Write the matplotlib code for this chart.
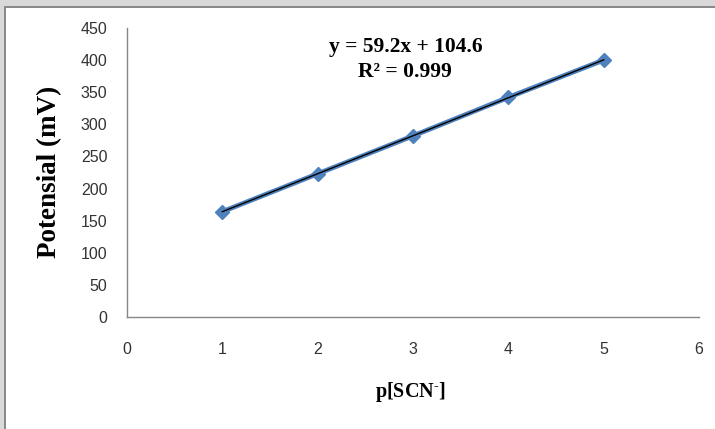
import numpy as np
import matplotlib
matplotlib.use("Agg")
import matplotlib.pyplot as plt
from matplotlib.patches import Rectangle

x_vals = [1, 2, 3, 4, 5]
potential = [164, 223, 282, 342, 400]
x_ticks = [0, 1, 2, 3, 4, 5, 6]
y_ticks = [0, 50, 100, 150, 200, 250, 300, 350, 400, 450]
eq_text = "y = 59.2x + 104.6"
r2_text = "R\u00b2 = 0.999"
xlabel_text = r"p[SCN$^{\text{-}}$]"
ylabel_text = "Potensial (mV)"

plt.rcParams['mathtext.fontset'] = 'custom'
plt.rcParams['mathtext.rm'] = 'Liberation Serif:bold'
plt.rcParams['mathtext.it'] = 'Liberation Serif:bold'
plt.rcParams['mathtext.bf'] = 'Liberation Serif:bold'

fig = plt.figure(figsize=(7.15, 4.29), dpi=100)
W, H = 715, 429

# window frame decorations
fig.patches.append(Rectangle((0, 1 - 6 / H), 1, 6 / H, transform=fig.transFigure,
                             facecolor='#d9d9d9', edgecolor='none', zorder=0))
fig.patches.append(Rectangle((0, 1 - 8 / H), 1, 2 / H, transform=fig.transFigure,
                             facecolor='#8a8a8a', edgecolor='none', zorder=0))
fig.patches.append(Rectangle((0, 0), 4 / W, 1, transform=fig.transFigure,
                             facecolor='#d9d9d9', edgecolor='none', zorder=0))
fig.patches.append(Rectangle((4 / W, 0), 2 / W, 1 - 6 / H, transform=fig.transFigure,
                             facecolor='#8a8a8a', edgecolor='none', zorder=0))

ax = fig.add_axes([127 / W, 1 - 317 / H, (699 - 127) / W, (317 - 28) / H])
ax.set_xlim(0, 6)
ax.set_ylim(0, 450)

ax.plot(x_vals, potential, color='#4f81bd', linewidth=3.5, marker='D',
        markersize=7.5, zorder=3)
coef = np.polyfit(x_vals, potential, 1)
xf = np.array([x_vals[0], x_vals[-1]])
ax.plot(xf, np.polyval(coef, xf), color='black', linewidth=1.0, zorder=4)

ax.set_xticks(x_ticks)
ax.set_yticks(y_ticks)
ax.tick_params(length=0, labelsize=11.5, labelcolor='#333333')
ax.tick_params(axis='y', pad=14)
ax.tick_params(axis='x', pad=18)
for lab in ax.get_xticklabels() + ax.get_yticklabels():
    lab.set_family('Liberation Sans')

for s in ['top', 'right']:
    ax.spines[s].set_visible(False)
for s in ['left', 'bottom']:
    ax.spines[s].set_color('#868686')
    ax.spines[s].set_linewidth(1.0)

serif = ['Liberation Serif', 'DejaVu Serif']
ax.text(2.92, 421, eq_text, ha='center', va='center', fontsize=15.5,
        family=serif, fontweight='bold')
ax.text(2.92, 382, r2_text, ha='center', va='center', fontsize=15.5,
        family=serif, fontweight='bold')

fig.text(50 / W, 1 - 172 / H, ylabel_text, rotation=90, ha='center', va='center',
         fontsize=19.5, family=serif, fontweight='bold')
fig.text(410 / W, 1 - 392 / H, xlabel_text, ha='center', va='center',
         fontsize=14.5, family=serif, fontweight='bold')

fig.savefig('out.png', dpi=100)
